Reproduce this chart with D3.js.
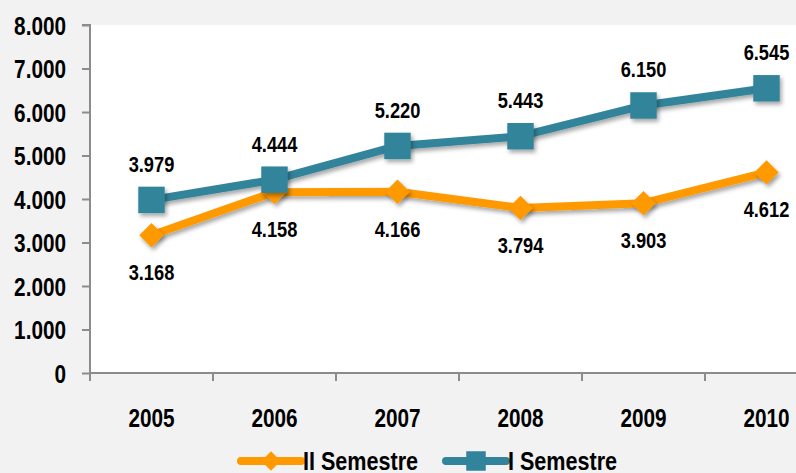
<!DOCTYPE html>
<html lang="it">
<head>
    <meta charset="UTF-8">
    <title>Semestri 2005-2010</title>
    <script src="https://d3js.org/d3.v7.min.js"></script>
    <style>
        html, body { margin: 0; padding: 0; background: #f2f2f2; }
        svg { display: block; font-family: "Liberation Sans", Arial, sans-serif; font-weight: bold; }
    </style>
</head>
<body>
    <div id="chart"></div>
    <script>
        // Chart data
        const years = ["2005", "2006", "2007", "2008", "2009", "2010"];
        const secondSemester = [3168, 4158, 4166, 3794, 3903, 4612];
        const firstSemester = [3979, 4444, 5220, 5443, 6150, 6545];
        const yTicks = [0, 1000, 2000, 3000, 4000, 5000, 6000, 7000, 8000];
        const seriesNames = ["II Semestre", "I Semestre"];

        const width = 796, height = 473;
        const orange = "#ff9900", teal = "#31849b";
        const narrow = 0.83; // condensed look of the original font

        // squeeze text horizontally, keeping its anchor point in place
        function condense(sel) {
            sel.each(function () {
                const t = d3.select(this);
                const xv = +t.attr("x") || 0;
                t.attr("x", xv / narrow).attr("transform", `scale(${narrow},1)`);
            });
        }

        const svg = d3.select("#chart").append("svg")
            .attr("width", width)
            .attr("height", height);

        svg.append("rect").attr("width", width).attr("height", height).attr("fill", "#f2f2f2");

        const defs = svg.append("defs");
        const shadow = defs.append("filter").attr("id", "shadow")
            .attr("x", "-30%").attr("y", "-30%").attr("width", "160%").attr("height", "160%");
        shadow.append("feDropShadow")
            .attr("dx", 2).attr("dy", 3).attr("stdDeviation", 2)
            .attr("flood-color", "#000").attr("flood-opacity", 0.35);

        const plotLeft = 90, plotTop = 25, plotBottom = 373;
        const band = 123;

        const x = d3.scaleBand().domain(years)
            .range([plotLeft, plotLeft + band * years.length]);
        const y = d3.scaleLinear().domain([0, 8000]).range([plotBottom, plotTop]);

        // plot area
        svg.append("rect")
            .attr("x", plotLeft).attr("y", plotTop)
            .attr("width", width - plotLeft).attr("height", plotBottom - plotTop)
            .attr("fill", "#fff");

        const fmt = d => d3.format(",")(d).replace(/,/g, ".");

        // y axis
        const yAxis = svg.append("g")
            .attr("transform", `translate(${plotLeft},0)`)
            .call(d3.axisLeft(y).tickValues(yTicks).tickSize(8).tickPadding(16).tickFormat(fmt));
        yAxis.selectAll("path, line").attr("stroke", "#8c8c8c").attr("stroke-width", 2);
        yAxis.select(".domain").attr("d", `M-8,${plotTop}H0V${plotBottom}`);
        yAxis.selectAll("text").attr("font-size", 25).attr("fill", "#000")
            .attr("font-family", null).attr("dy", "0.36em").call(condense);

        // x axis
        const xAxis = svg.append("g")
            .attr("transform", `translate(0,${plotBottom})`)
            .call(d3.axisBottom(x).tickSize(0).tickPadding(36));
        xAxis.select(".domain").attr("stroke", "#8c8c8c").attr("stroke-width", 2)
            .attr("d", `M${plotLeft},0H${plotLeft + band * years.length}`);
        xAxis.selectAll("text").attr("font-size", 25).attr("fill", "#000")
            .attr("font-family", null).call(condense);
        xAxis.selectAll(".bound").data(d3.range(years.length + 1)).enter()
            .append("line").attr("class", "bound")
            .attr("x1", i => plotLeft + i * band).attr("x2", i => plotLeft + i * band)
            .attr("y1", 0).attr("y2", 8)
            .attr("stroke", "#8c8c8c").attr("stroke-width", 2);

        const cx = d => x(d) + x.bandwidth() / 2;

        const line = d3.line().x((d, i) => cx(years[i])).y(d => y(d));

        const diamond = d3.symbol().type(d3.symbolDiamond2 || d3.symbolDiamond).size(380);
        const square = d3.symbol().type(d3.symbolSquare).size(700);

        function drawSeries(values, color, sym, labelDy) {
            const g = svg.append("g");
            g.append("path").datum(values)
                .attr("d", line)
                .attr("fill", "none")
                .attr("stroke", color)
                .attr("stroke-width", 8)
                .attr("stroke-linejoin", "round")
                .attr("stroke-linecap", "round")
                .attr("filter", "url(#shadow)");
            g.selectAll(".m").data(values).enter().append("path")
                .attr("class", "m")
                .attr("d", sym)
                .attr("transform", (d, i) => `translate(${cx(years[i])},${y(d)})`)
                .attr("fill", color)
                .attr("filter", "url(#shadow)");
            g.selectAll(".lbl").data(values).enter().append("text")
                .attr("class", "lbl")
                .attr("x", (d, i) => cx(years[i]))
                .attr("y", d => y(d) + labelDy)
                .attr("text-anchor", "middle")
                .attr("dy", "0.36em")
                .attr("font-size", 22)
                .text(fmt)
                .call(condense);
        }

        drawSeries(secondSemester, orange, diamond, 37);
        drawSeries(firstSemester, teal, square, -36);

        // legend
        const legend = [
            { name: seriesNames[0], color: orange, sym: d3.symbol().type(d3.symbolDiamond2 || d3.symbolDiamond).size(240), x: 241 },
            { name: seriesNames[1], color: teal, sym: d3.symbol().type(d3.symbolSquare).size(380), x: 446 }
        ];
        const lg = svg.append("g").selectAll("g").data(legend).enter().append("g")
            .attr("transform", d => `translate(${d.x},461)`);
        lg.append("line").attr("x1", 0).attr("x2", 60).attr("y1", 0).attr("y2", 0)
            .attr("stroke", d => d.color).attr("stroke-width", 8).attr("stroke-linecap", "round");
        lg.append("path").attr("d", d => d.sym()).attr("transform", "translate(30,0)")
            .attr("fill", d => d.color);
        lg.append("text").attr("x", 62).attr("dy", "0.36em").attr("font-size", 26)
            .text(d => d.name).call(condense);
    </script>
</body>
</html>
